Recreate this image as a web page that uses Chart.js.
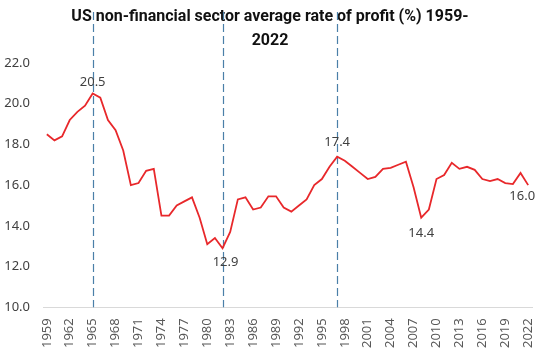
<!DOCTYPE html>
<html>
<head>
<meta charset="utf-8">
<script src="https://cdn.jsdelivr.net/npm/chart.js@4"></script>
<style>
  html, body { margin: 0; padding: 0; background: #fff; }
  #wrap { width: 540px; height: 351px; }
</style>
</head>
<body>
<div id="wrap"><canvas id="profit"></canvas></div>
<script>
// years 1959-2022
const years = ["1959","1960","1961","1962","1963","1964","1965","1966","1967","1968",
  "1969","1970","1971","1972","1973","1974","1975","1976","1977","1978",
  "1979","1980","1981","1982","1983","1984","1985","1986","1987","1988",
  "1989","1990","1991","1992","1993","1994","1995","1996","1997","1998",
  "1999","2000","2001","2002","2003","2004","2005","2006","2007","2008",
  "2009","2010","2011","2012","2013","2014","2015","2016","2017","2018",
  "2019","2020","2021","2022"];

const profitRate = [18.5, 18.2, 18.4, 19.2, 19.6, 19.9, 20.5, 20.3, 19.2, 18.7,
  17.7, 16.0, 16.1, 16.7, 16.8, 14.5, 14.5, 15.0, 15.2, 15.4,
  14.4, 13.1, 13.4, 12.9, 13.7, 15.3, 15.4, 14.8, 14.9, 15.45,
  15.45, 14.9, 14.7, 15.0, 15.3, 16.0, 16.3, 16.9, 17.4, 17.2,
  16.9, 16.6, 16.3, 16.4, 16.8, 16.85, 17.0, 17.15, 15.9, 14.4,
  14.8, 16.3, 16.5, 17.1, 16.8, 16.9, 16.75, 16.3, 16.2, 16.3,
  16.1, 16.05, 16.6, 16.0];

const yTicks = [10, 12, 14, 16, 18, 20, 22];
const markerYears = ["1965", "1982", "1997"];
const labelledYears = ["1965", "1982", "1997", "2008", "2022"];

// where each value label sits relative to its point
const labelPlacement = {
  "1965": { dx: 0, dy: -11 },
  "1982": { dx: 3, dy: 14 },
  "1997": { dx: 0, dy: -14 },
  "2008": { dx: 0, dy: 16 },
  "2022": { dx: -6, dy: 11 }
};

const markerLines = {
  id: 'markerLines',
  beforeDatasetsDraw(chart) {
    const ctx = chart.ctx;
    const x = chart.scales.x;
    ctx.save();
    ctx.strokeStyle = '#4a7fa8';
    ctx.lineWidth = 1.2;
    ctx.setLineDash([8, 4]);
    markerYears.forEach(yr => {
      const px = Math.round(x.getPixelForValue(years.indexOf(yr))) + 0.5;
      ctx.beginPath();
      ctx.moveTo(px, 12);
      ctx.lineTo(px, chart.chartArea.bottom);
      ctx.stroke();
    });
    ctx.restore();
  }
};

const valueLabels = {
  id: 'valueLabels',
  afterDatasetsDraw(chart) {
    const ctx = chart.ctx;
    const meta = chart.getDatasetMeta(0);
    ctx.save();
    ctx.font = '13px "Noto Sans", sans-serif';
    ctx.fillStyle = '#404040';
    ctx.textAlign = 'center';
    ctx.textBaseline = 'middle';
    labelledYears.forEach(yr => {
      const i = years.indexOf(yr);
      const pt = meta.data[i];
      const p = labelPlacement[yr];
      ctx.fillText(profitRate[i].toFixed(1), pt.x + p.dx, pt.y + p.dy);
    });
    ctx.restore();
  }
};

new Chart(document.getElementById('profit'), {
  type: 'line',
  data: {
    labels: years,
    datasets: [{
      label: 'Rate of profit',
      data: profitRate,
      borderColor: '#e8282b',
      borderWidth: 1.8,
      pointRadius: 0,
      tension: 0,
      fill: false
    }]
  },
  options: {
    responsive: true,
    maintainAspectRatio: false,
    animation: false,
    layout: { padding: { left: 0, right: 0, top: 0, bottom: 0 } },
    plugins: {
      legend: { display: false },
      tooltip: { enabled: false },
      title: {
        display: true,
        text: ['US non-financial sector average rate of profit (%) 1959-', '2022'],
        color: '#111',
        font: { family: 'Roboto', size: 16, weight: 'bold', lineHeight: 1.5 },
        padding: { top: 5, bottom: 10 }
      }
    },
    scales: {
      x: {
        offset: true,
        afterFit(axis) { axis.paddingLeft = 0; axis.paddingRight = 8; },
        grid: { display: false },
        border: { display: true, color: '#d9d9d9' },
        ticks: {
          autoSkip: false,
          minRotation: 90,
          maxRotation: 90,
          color: '#595959',
          font: { family: '"Noto Sans", sans-serif', size: 13 },
          padding: 3,
          callback: function (v, i) { return i % 3 === 0 ? years[i] : ''; }
        }
      },
      y: {
        min: 10,
        max: 22,
        afterBuildTicks(axis) { axis.ticks = yTicks.map(v => ({ value: v })); },
        afterFit(axis) { axis.width = 43; },
        grid: { display: false, drawTicks: false },
        border: { display: false },
        ticks: {
          color: '#404040',
          font: { family: '"Noto Sans", sans-serif', size: 13 },
          padding: 13,
          callback: v => v.toFixed(1)
        }
      }
    }
  },
  plugins: [markerLines, valueLabels]
});
</script>
</body>
</html>
